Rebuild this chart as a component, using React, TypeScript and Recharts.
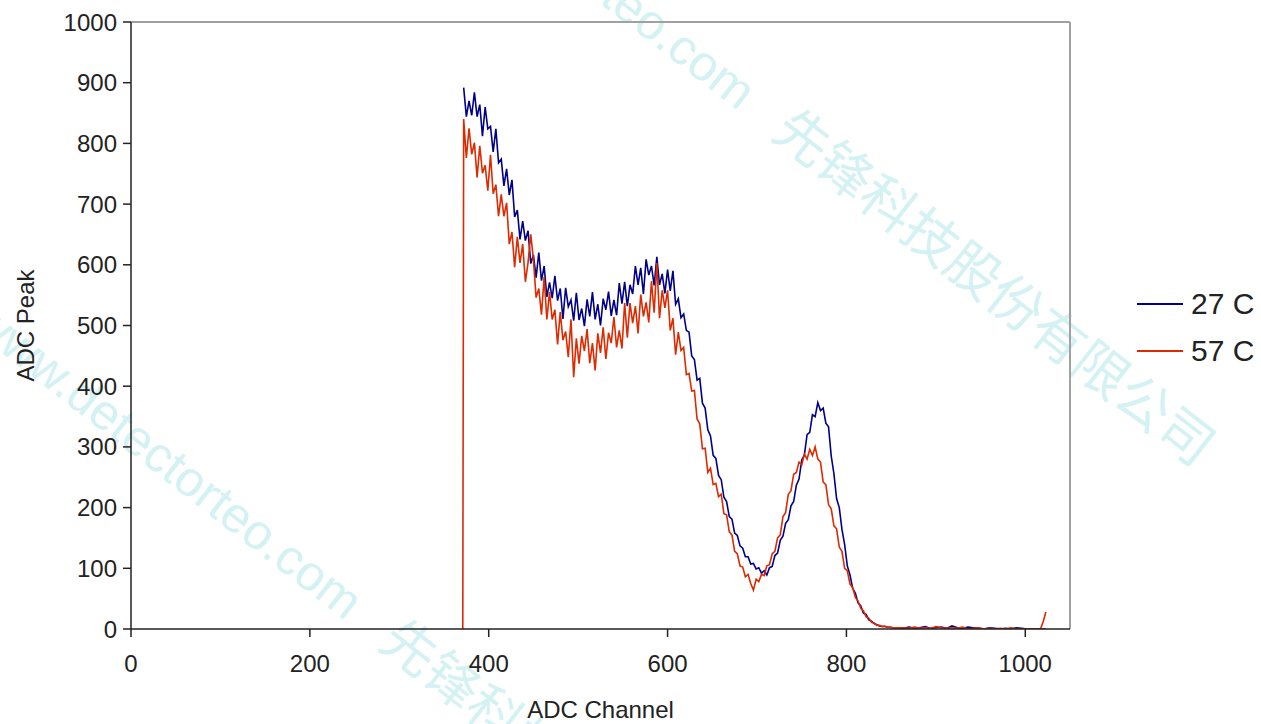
import React from "react";
import { LineChart, Line, XAxis, YAxis, ReferenceLine, Legend } from "recharts";

const channels: number[] = [
  371,
  372, 375, 378, 381, 384, 387, 390, 393, 396, 399,
  402, 405, 408, 411, 414, 417, 420, 423, 426, 429,
  432, 435, 438, 441, 444, 447, 450, 453, 456, 459,
  462, 465, 468, 471, 474, 477, 480, 483, 486, 489,
  492, 495, 498, 501, 504, 507, 510, 513, 516, 519,
  522, 525, 528, 531, 534, 537, 540, 543, 546, 549,
  552, 555, 558, 561, 564, 567, 570, 573, 576, 579,
  582, 585, 588, 591, 594, 597, 600, 603, 606, 609,
  612, 615, 618, 621, 624, 627, 630, 633, 636, 639,
  642, 645, 648, 651, 654, 657, 660, 663, 666, 669,
  672, 675, 678, 681, 684, 687, 690, 693, 696, 699,
  702, 705, 708, 711, 714, 717, 720, 723, 726, 729,
  732, 735, 738, 741, 744, 747, 750, 753, 756, 759,
  762, 765, 768, 771, 774, 777, 780, 783, 786, 789,
  792, 795, 798, 801, 804, 807, 810, 813, 816, 819,
  822, 825, 828, 831, 834, 837, 840, 843, 846, 849,
  852,
  858, 864, 870, 876, 882, 888, 894, 900, 906, 912,
  918, 924, 930, 936, 942, 948, 954, 960, 966, 972,
  978, 984, 990, 996, 1002, 1008, 1014,
  1017, 1020, 1023,
];

const peak27C: (number | null)[] = [
  null,
  892, 844, 870, 846, 884, 844, 864, 812, 860, 824,
  828, 786, 824, 768, 774, 730, 758, 715, 740, 679,
  690, 642, 672, 640, 656, 602, 616, 579, 620, 574,
  598, 547, 571, 545, 582, 541, 561, 511, 562, 531,
  542, 508, 554, 509, 528, 499, 543, 515, 555, 510,
  535, 500, 544, 526, 556, 516, 542, 517, 570, 536,
  572, 532, 567, 552, 598, 567, 595, 552, 609, 583,
  598, 566, 613, 567, 585, 553, 592, 557, 590, 535,
  544, 513, 519, 492, 489, 450, 444, 410, 413, 372,
  364, 328, 318, 286, 281, 253, 246, 217, 210, 185,
  181, 158, 154, 137, 133, 119, 119, 107, 108, 99,
  101, 92, 96, 89, 101, 103, 121, 125, 146, 153,
  174, 180, 203, 210, 237, 247, 278, 287, 320, 324,
  353, 350, 373, 360, 364, 339, 333, 285, 256, 215,
  200, 164, 139, 104, 89, 67, 59, 43, 38, 26,
  24, 15, 13, 9, 7, 5, 4, 4, 3, 3,
  2,
  2, 1, 3, 1, 2, 4, 1, 2, 3, 1,
  5, 2, 1, 3, 2, 1, 0, 2, 1, 0,
  1, 0, 2, 1, 0, 0, 0,
  0, 0, 0,
];

const peak57C: (number | null)[] = [
  0,
  840, 776, 825, 782, 801, 744, 796, 751, 764, 722,
  781, 717, 732, 680, 716, 680, 702, 634, 654, 596,
  646, 603, 634, 572, 604, 650, 609, 546, 561, 518,
  580, 510, 555, 510, 526, 469, 522, 476, 490, 448,
  510, 415, 479, 437, 483, 458, 494, 438, 471, 426,
  487, 455, 497, 445, 488, 471, 514, 464, 492, 462,
  537, 480, 537, 504, 532, 487, 551, 515, 538, 505,
  573, 521, 603, 512, 558, 529, 558, 492, 512, 452,
  489, 459, 464, 419, 421, 392, 393, 346, 338, 297,
  298, 258, 265, 238, 240, 218, 222, 190, 188, 160,
  155, 128, 124, 104, 102, 86, 90, 75, 64, 82,
  78, 90, 88, 104, 106, 124, 128, 150, 155, 185,
  192, 222, 228, 255, 258, 275, 270, 288, 280, 296,
  286, 300, 280, 275, 242, 238, 205, 198, 170, 165,
  135, 128, 100, 96, 74, 68, 52, 46, 34, 30,
  20, 18, 11, 10, 6, 6, 4, 5, 3, 3,
  2,
  2, 2, 1, 3, 1, 2, 1, 4, 2, 1,
  2, 1, 3, 0, 1, 2, 0, 1, 0, 1,
  0, 2, 0, 0, 0, 0, 0,
  0, 12, 28,
];

const xTicks = [0, 200, 400, 600, 800, 1000];
const yTicks = [0, 100, 200, 300, 400, 500, 600, 700, 800, 900, 1000];
const seriesNames = ["27 C", "57 C"];
const seriesColors = ["#000088", "#dd2a00"];

const data = channels.map((ch, i) => ({ ch, t27: peak27C[i], t57: peak57C[i] }));

const FONT = '"Liberation Sans", Arial, sans-serif';
const CJK = '"Noto Sans CJK SC", sans-serif';

const LegendContent = () => (
  <div style={{ fontFamily: FONT }}>
    {seriesNames.map((n, i) => (
      <div key={n} style={{ display: "flex", alignItems: "center", height: 47 }}>
        <svg width={46} height={4} style={{ display: "block" }}>
          <line x1={0} y1={2} x2={46} y2={2} stroke={seriesColors[i]} strokeWidth={2} />
        </svg>
        <span style={{ marginLeft: 8, fontSize: 30, color: "#222", lineHeight: "34px" }}>{n}</span>
      </div>
    ))}
  </div>
);

const wmStyle: React.CSSProperties = {
  position: "absolute",
  whiteSpace: "nowrap",
  fontSize: 50,
  lineHeight: "50px",
  height: 50,
  color: "#d4f2f3",
  transformOrigin: "0 50%",
  transform: "rotate(38deg)",
  pointerEvents: "none",
};

export default function App() {
  return (
    <div style={{ position: "absolute", left: 0, top: 0, width: 1261, height: 724, background: "#fff", overflow: "hidden" }}>
      <div style={{ ...wmStyle, left: 376, top: -226 }}>
        <span style={{ fontFamily: FONT }}>www.detectorteo.com</span>
        <span style={{ fontFamily: CJK, fontSize: 54, marginLeft: 40 }}>先锋科技股份有限公司</span>
      </div>
      <div style={{ ...wmStyle, left: -17, top: 284 }}>
        <span style={{ fontFamily: FONT }}>www.detectorteo.com</span>
        <span style={{ fontFamily: CJK, fontSize: 54, marginLeft: 40 }}>先锋科技股份有限公司</span>
      </div>
      <div style={{ position: "absolute", left: 0, top: 0 }}>
        <LineChart
          width={1261}
          height={724}
          data={data}
          margin={{ top: 22, right: 191, bottom: 0, left: 0 }}
          style={{ fontFamily: FONT }}
        >
          <ReferenceLine y={1000} stroke="#a0a0a0" strokeWidth={2} />
          <ReferenceLine x={1050} stroke="#a0a0a0" strokeWidth={2} />
          <XAxis
            dataKey="ch"
            type="number"
            domain={[0, 1050]}
            ticks={xTicks}
            height={95}
            tickSize={8}
            tickMargin={18}
            allowDataOverflow
            stroke="#222"
            strokeWidth={1.5}
            tick={{ fill: "#222", fontSize: 24, fontFamily: FONT }}
            label={{ value: "ADC Channel", position: "center", dy: 33, fill: "#222", fontSize: 24, fontFamily: FONT }}
          />
          <YAxis
            type="number"
            domain={[0, 1000]}
            ticks={yTicks}
            width={131}
            tickSize={8}
            tickMargin={6}
            allowDataOverflow
            stroke="#222"
            strokeWidth={1.5}
            tick={{ fill: "#222", fontSize: 24, fontFamily: FONT }}
            label={{ value: "ADC Peak", angle: -90, position: "center", dx: -40, fill: "#222", fontSize: 24, fontFamily: FONT }}
          />
          <Legend
            layout="vertical"
            align="center"
            verticalAlign="middle"
            content={<LegendContent />}
            wrapperStyle={{ left: 1137, top: 280, width: 124, height: 94 }}
          />
          <Line
            type="linear"
            dataKey="t27"
            name={seriesNames[0]}
            stroke={seriesColors[0]}
            strokeWidth={1.6}
            dot={false}
            isAnimationActive={false}
          />
          <Line
            type="linear"
            dataKey="t57"
            name={seriesNames[1]}
            stroke={seriesColors[1]}
            strokeWidth={1.6}
            dot={false}
            isAnimationActive={false}
          />
        </LineChart>
      </div>
    </div>
  );
}
